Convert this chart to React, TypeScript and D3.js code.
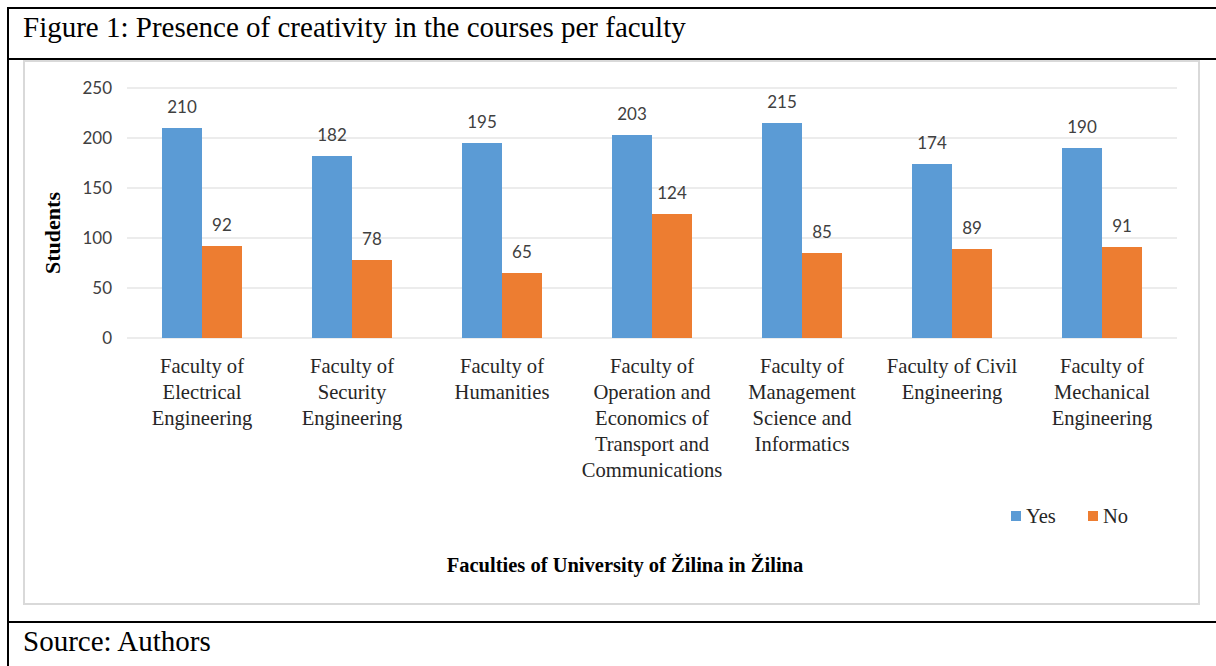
import { scaleBand, scaleLinear } from "d3";

const categories = [
  "Faculty of Electrical Engineering",
  "Faculty of Security Engineering",
  "Faculty of Humanities",
  "Faculty of Operation and Economics of Transport and Communications",
  "Faculty of Management Science and Informatics",
  "Faculty of Civil Engineering",
  "Faculty of Mechanical Engineering",
];

// wrapped tick labels, as in the picture
const categoryLines = [
  ["Faculty of", "Electrical", "Engineering"],
  ["Faculty of", "Security", "Engineering"],
  ["Faculty of", "Humanities"],
  ["Faculty of", "Operation and", "Economics of", "Transport and", "Communications"],
  ["Faculty of", "Management", "Science and", "Informatics"],
  ["Faculty of Civil", "Engineering"],
  ["Faculty of", "Mechanical", "Engineering"],
];

const seriesNames = ["Yes", "No"];
const yesValues = [210, 182, 195, 203, 215, 174, 190];
const noValues = [92, 78, 65, 124, 85, 89, 91];
const yTicks = [0, 50, 100, 150, 200, 250];

const colors = ["#5b9bd5", "#ed7d31"];

const width = 1216;
const height = 666;
const serif = "'Liberation Serif', 'Times New Roman', serif";
const sans = "Lato, 'Open Sans', sans-serif";

const App = () => {
  const x = scaleBand<string>()
    .domain(categories)
    .range([127, 1177])
    .paddingInner(0.4667)
    .paddingOuter(0.2333);

  const x1 = scaleBand<string>().domain(seriesNames).range([0, x.bandwidth()]);

  const y = scaleLinear().domain([0, 250]).range([338, 88]);

  const series = [yesValues, noValues];

  return (
    <svg
      width={width}
      height={height}
      style={{ position: "absolute", left: 0, top: 0, background: "#fff" }}
    >
      {/* table frame */}
      <line x1={7} x2={width} y1={8} y2={8} stroke="#000" strokeWidth={2} />
      <line x1={8} x2={8} y1={7} y2={height} stroke="#000" strokeWidth={2} />
      <line x1={7} x2={width} y1={59} y2={59} stroke="#000" strokeWidth={2.2} />
      <line x1={7} x2={width} y1={622} y2={622} stroke="#000" strokeWidth={2.2} />

      <text x={23} y={37} fontFamily={serif} fontSize={29} fill="#000">
        Figure 1: Presence of creativity in the courses per faculty
      </text>
      <text x={23} y={651} fontFamily={serif} fontSize={29} fill="#000">
        Source: Authors
      </text>

      {/* chart area border */}
      <rect x={24} y={61} width={1175} height={543} fill="#fff" stroke="#d9d9d9" strokeWidth={2} />

      {/* grid + y ticks */}
      {yTicks.map(t => (
        <g key={t}>
          <line x1={127} x2={1177} y1={y(t)} y2={y(t)} stroke="#d9d9d9" strokeWidth={1} />
          <text
            x={112}
            y={y(t)}
            dy="0.35em"
            textAnchor="end"
            fontFamily={sans}
            fontSize={17}
            fill="#404040"
          >
            {t}
          </text>
        </g>
      ))}

      {/* bars */}
      {categories.map((c, i) => (
        <g key={c} transform={`translate(${x(c)},0)`}>
          {seriesNames.map((s, j) => {
            const v = series[j][i];
            return (
              <g key={s}>
                <rect
                  x={x1(s)}
                  y={y(v)}
                  width={x1.bandwidth()}
                  height={y(0) - y(v)}
                  fill={colors[j]}
                />
                <text
                  x={(x1(s) as number) + x1.bandwidth() / 2}
                  y={y(v) - 15}
                  textAnchor="middle"
                  fontFamily={sans}
                  fontSize={17}
                  fill="#404040"
                >
                  {v}
                </text>
              </g>
            );
          })}
        </g>
      ))}

      {/* category labels */}
      {categories.map((c, i) => (
        <text
          key={c}
          textAnchor="middle"
          fontFamily={serif}
          fontSize={20.6}
          fill="#262626"
        >
          {categoryLines[i].map((ln, k) => (
            <tspan key={k} x={(x(c) as number) + x.bandwidth() / 2} y={373 + k * 26}>
              {ln}
            </tspan>
          ))}
        </text>
      ))}

      {/* legend */}
      {seriesNames.map((s, j) => (
        <g key={s} transform={`translate(${1011 + j * 77},511)`}>
          <rect width={10} height={10} fill={colors[j]} />
          <text x={15} y={12} fontFamily={serif} fontSize={20.5} fill="#262626">
            {s}
          </text>
        </g>
      ))}

      {/* axis titles */}
      <text
        transform="translate(60,233) rotate(-90)"
        textAnchor="middle"
        fontFamily={serif}
        fontWeight="bold"
        fontSize={22}
        fill="#000"
      >
        Students
      </text>
      <text
        x={625}
        y={572}
        textAnchor="middle"
        fontFamily={serif}
        fontWeight="bold"
        fontSize={20.5}
        fill="#000"
      >
        Faculties of University of Žilina in Žilina
      </text>
    </svg>
  );
};

export default App;
